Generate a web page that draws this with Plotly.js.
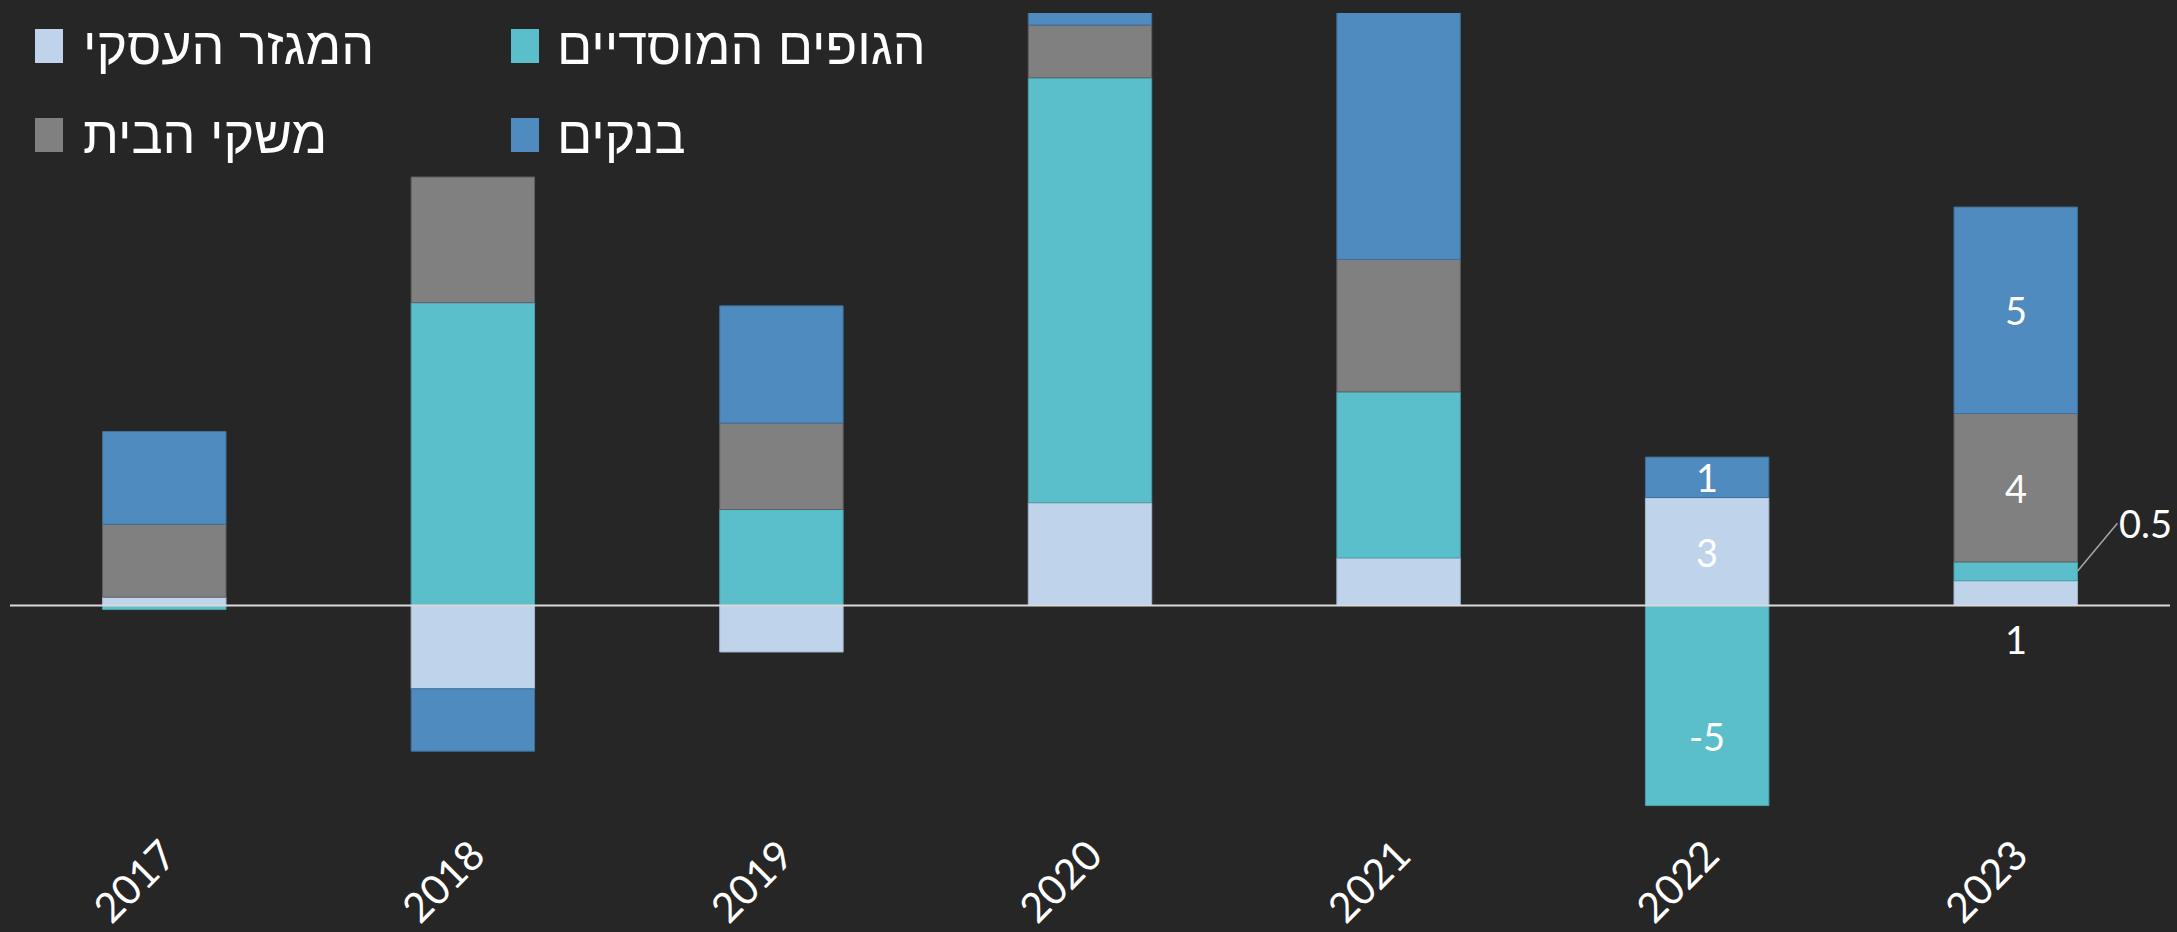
<!DOCTYPE html>
<html>
<head>
<meta charset="utf-8">
<script src="https://cdn.plot.ly/plotly-3.0.1.min.js"></script>
<style>
  html, body { margin: 0; padding: 0; background: #262626; }
  #chart { width: 2177px; height: 932px; }
</style>
</head>
<body>
<div id="chart"></div>
<script>
// ---- data ----
const years = ['2017', '2018', '2019', '2020', '2021', '2022', '2023'];
const seriesNames = ['המגזר העסקי', 'הגופים המוסדיים', 'משקי הבית', 'בנקים'];
const business      = [0.21, -2.08, -1.16, 2.57, 1.19, 2.70, 0.62];
const institutional = [-0.10, 7.57, 2.40, 10.62, 4.15, -5.00, 0.47];
const households    = [1.82, 3.14, 2.16, 1.32, 3.31, 0.00, 3.71];
const banks         = [2.32, -1.56, 2.93, 0.40, 6.50, 1.01, 5.16];
const businessLabels      = ['', '', '', '', '', '3', '1'];
const institutionalLabels = ['', '', '', '', '', '-5', '0.5'];
const householdsLabels    = ['', '', '', '', '', '', '4'];
const banksLabels         = ['', '', '', '', '', '1', '5'];

// ---- style ----
const colors = ['#bfd3eb', '#5bbfcb', '#808080', '#4f8bbe'];
const lineColors = ['#a7b8cc', '#4a9fa9', '#606060', '#3f6f98'];
const BG = '#262626';
const FONT = "Lato, 'Open Sans', sans-serif";
const HEB_FONT = "'Liberation Sans Narrow', 'Liberation Sans', 'Open Sans', sans-serif";

// plot area in pixels
const W = 2177, H = 932;
const L = 10, R = 2170, T = 13, B = 832;
const Y_RANGE = [-5.66, 14.81];
const px = x => (x - L) / (R - L);
const py = y => (B - y) / (B - T);
const pxPerUnit = (B - T) / (Y_RANGE[1] - Y_RANGE[0]);

const values = [business, institutional, households, banks];
const labels = [businessLabels, institutionalLabels, householdsLabels, banksLabels];

const traces = values.map((v, i) => ({
  type: 'bar',
  name: seriesNames[i],
  x: years,
  y: v,
  marker: { color: colors[i], line: { color: lineColors[i], width: 1 } },
  hoverinfo: 'x+y+name',
  showlegend: false
}));

// label annotations computed from stacked values
const annotations = [];
const posBase = years.map(() => 0);
const negBase = years.map(() => 0);
values.forEach((v, s) => {
  v.forEach((val, i) => {
    let lo, hi;
    if (val >= 0) { lo = posBase[i]; hi = lo + val; posBase[i] = hi; }
    else { hi = negBase[i]; lo = hi + val; negBase[i] = lo; }
    const txt = labels[s][i];
    if (!txt) return;
    const mid = (lo + hi) / 2;
    const heightPx = Math.abs(val) * pxPerUnit;
    const base = { xref: 'x', yref: 'y', x: i, text: txt,
      font: { family: FONT, size: 38, color: '#ffffff' }, showarrow: false };
    if (heightPx >= 35) {
      annotations.push(Object.assign(base, { y: mid, yshift: val < 0 ? -30 : 0 }));
    } else if (val > 0 && lo === 0) {
      // small bottom segment: label below the zero line
      annotations.push(Object.assign(base, { y: 0, yanchor: 'top', yshift: -8 }));
    } else {
      // small segment: label outside with leader line
      annotations.push(Object.assign(base, {
        x: i + 0.2, y: mid, showarrow: true, arrowhead: 0, arrowwidth: 1.5,
        arrowcolor: '#a6a6a6', ax: 40, ay: -48, xanchor: 'left', standoff: 0
      }));
    }
  });
});

// legend (manual, two rows x two columns)
const legendItems = [
  { s: 0, sx: 35, tx: 81, cy: 46 },
  { s: 1, sx: 511, tx: 555, cy: 46 },
  { s: 2, sx: 35, tx: 81, cy: 135 },
  { s: 3, sx: 511, tx: 555, cy: 135 }
];
const shapes = [];
legendItems.forEach(it => {
  shapes.push({ type: 'rect', xref: 'paper', yref: 'paper', layer: 'above',
    x0: px(it.sx), x1: px(it.sx + 28), y0: py(it.cy + 17), y1: py(it.cy - 17),
    fillcolor: colors[it.s], line: { width: 0 } });
  annotations.push({ xref: 'paper', yref: 'paper', x: px(it.tx), y: py(it.cy),
    xanchor: 'left', yanchor: 'middle', showarrow: false, text: seriesNames[it.s],
    font: { family: HEB_FONT, size: 52, color: '#ffffff' } });
});
// zero line on top of the bars
shapes.push({ type: 'line', xref: 'paper', yref: 'y', layer: 'above',
  x0: 0, x1: 1, y0: 0, y1: 0, line: { color: '#d9d9d9', width: 2 } });

const layout = {
  width: W, height: H,
  paper_bgcolor: BG, plot_bgcolor: BG,
  margin: { l: L, r: W - R, t: T, b: H - B, pad: 0 },
  barmode: 'relative',
  bargap: 0.6,
  showlegend: false,
  xaxis: {
    type: 'category', range: [-0.5, 6.5],
    showgrid: false, zeroline: false, showline: false, ticks: '',
    tickangle: -45, ticklabelstandoff: -10,
    tickfont: { family: FONT, size: 41, color: '#ffffff' }
  },
  yaxis: {
    range: Y_RANGE, showgrid: false, zeroline: false,
    showticklabels: false, showline: false, ticks: ''
  },
  shapes: shapes,
  annotations: annotations,
  font: { family: FONT, color: '#ffffff' }
};

Plotly.newPlot('chart', traces, layout, { displayModeBar: false, staticPlot: true });
</script>
</body>
</html>
